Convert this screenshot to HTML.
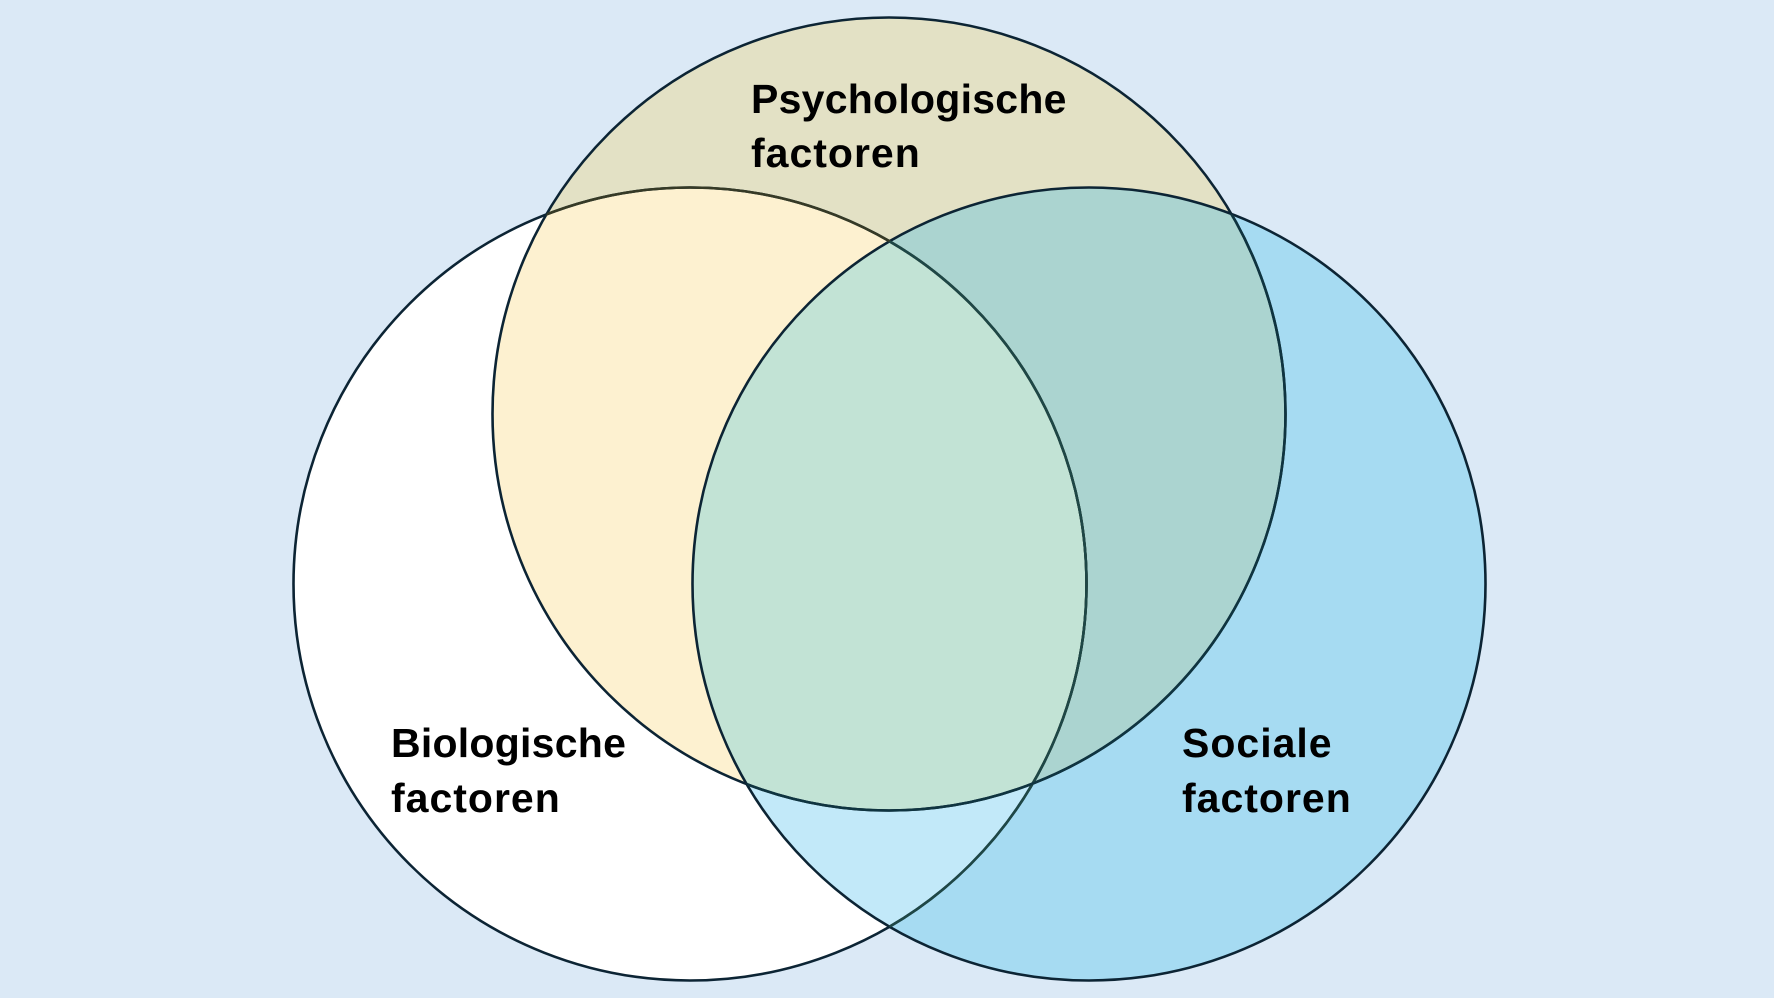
<!DOCTYPE html>
<html>
<head>
<meta charset="utf-8">
<style>
  html, body { margin: 0; padding: 0; }
  body { width: 1774px; height: 998px; overflow: hidden; background: #dbe9f6; }
  svg { display: block; }
  text { font-family: "Liberation Sans", Arial, sans-serif; font-weight: bold; font-size: 41px; fill: #000; }
  .w1 { letter-spacing: 0.25px; }
  .w2 { letter-spacing: 1px; }
</style>
</head>
<body>
<svg width="1774" height="998" viewBox="0 0 1774 998" xmlns="http://www.w3.org/2000/svg">
  <defs>
    <clipPath id="cL"><circle cx="690" cy="584" r="396.5"/></clipPath>
    <clipPath id="cT"><circle cx="889" cy="414" r="396.5"/></clipPath>
    <clipPath id="cR"><circle cx="1089" cy="584" r="396.5"/></clipPath>
  </defs>

  <rect x="0" y="0" width="1774" height="998" fill="#dbe9f6"/>

  <!-- base fills -->
  <circle cx="690" cy="584" r="396.5" fill="#ffffff"/>
  <circle cx="889" cy="414" r="396.5" fill="#e3e1c5"/>
  <circle cx="1089" cy="584" r="396.5" fill="#a6dbf2"/>

  <!-- pairwise overlaps -->
  <g clip-path="url(#cL)">
    <circle cx="889" cy="414" r="396.5" fill="#fdf1d0"/>
    <circle cx="1089" cy="584" r="396.5" fill="#c2e9f9"/>
  </g>
  <g clip-path="url(#cT)">
    <circle cx="1089" cy="584" r="396.5" fill="#abd4d0"/>
  </g>
  <!-- triple overlap -->
  <g clip-path="url(#cL)">
    <g clip-path="url(#cT)">
      <circle cx="1089" cy="584" r="396.5" fill="#c2e3d5"/>
    </g>
  </g>

  <!-- strokes -->
  <g fill="none" stroke-width="2.6">
    <circle cx="690" cy="584" r="396.5" stroke="#0c2434"/>
    <circle cx="889" cy="414" r="396.5" stroke="#0c2434"/>
    <circle cx="1089" cy="584" r="396.5" stroke="#0c2434"/>
    <g clip-path="url(#cT)">
      <circle cx="690" cy="584" r="396.5" stroke="#363a26"/>
    </g>
    <g clip-path="url(#cR)">
      <circle cx="690" cy="584" r="396.5" stroke="#1e4746"/>
      <circle cx="889" cy="414" r="396.5" stroke="#0f3440"/>
    </g>
  </g>

  <!-- labels -->
  <text class="w1" x="751" y="113">Psychologische</text>
  <text class="w2" x="751" y="167">factoren</text>

  <text class="w1" x="391" y="757">Biologische</text>
  <text class="w2" x="391" y="812">factoren</text>

  <text class="w2" x="1182" y="757">Sociale</text>
  <text class="w2" x="1182" y="812">factoren</text>
</svg>
</body>
</html>
